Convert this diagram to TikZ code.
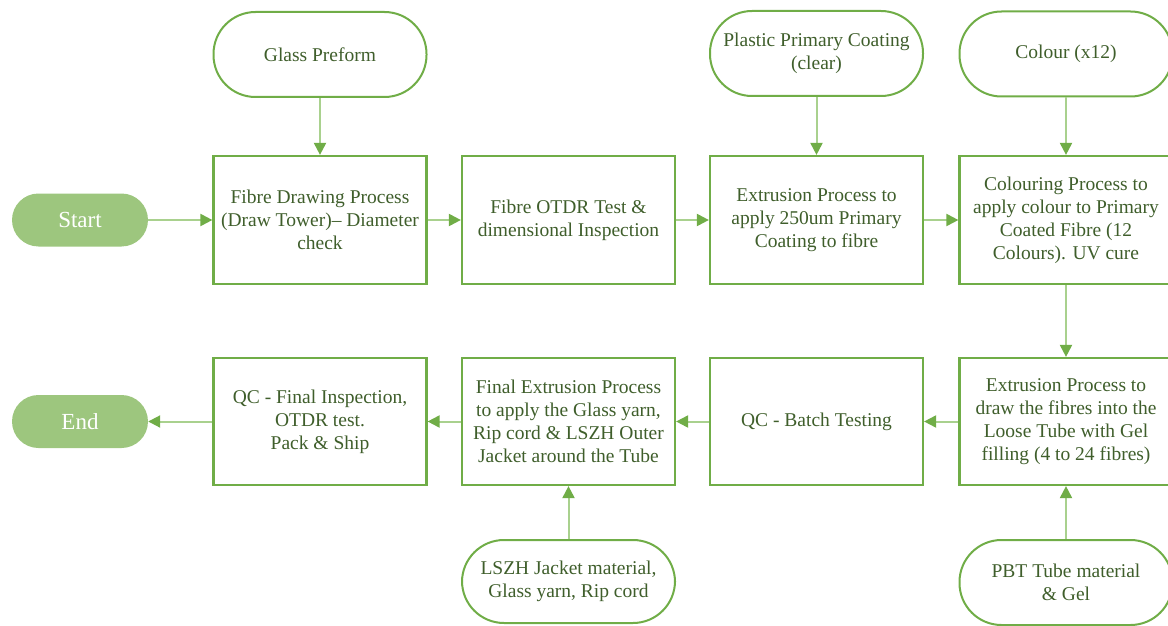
\documentclass[tikz,border=0pt]{standalone}
\usepackage{fontspec}
\setmainfont{Liberation Serif}
\usetikzlibrary{arrows.meta}
\definecolor{gborder}{HTML}{70AD47}
\definecolor{gline}{HTML}{A9D18E}
\definecolor{gfill}{HTML}{9DC67E}
\definecolor{gtext}{HTML}{3F5E2B}
\begin{document}
\begin{tikzpicture}[x=1pt,y=-1pt,
  proc/.style={draw=gborder,line width=2.2pt,minimum width=213pt,minimum height=128pt,
    align=center,text=gtext,font=\fontsize{19.5}{23}\selectfont,inner sep=0pt},
  inp/.style={draw=gborder,line width=2pt,rounded corners=42pt,minimum width=213pt,
    minimum height=85pt,align=center,text=gtext,font=\fontsize{19.5}{23}\selectfont,inner sep=0pt},
  term/.style={fill=gfill,draw=none,rounded corners=26.5pt,minimum width=136pt,
    minimum height=53pt,text=white,font=\fontsize{23}{27}\selectfont,inner sep=0pt},
  conn/.style={draw=gline,line width=2pt,-{Triangle[length=12pt,width=12pt,color=gborder]}}
]
\useasboundingbox (0,0) rectangle (1168,626);
\clip (0,0) rectangle (1168,626);

% top row
\node[term] (start) at (80,220) {Start};
\node[proc] (A) at (320,220) {Fibre Drawing Process\\(Draw Tower)-- Diameter\\check};
\node[proc] (B) at (568.5,220) {Fibre OTDR Test \&\\dimensional Inspection};
\node[proc] (C) at (816.5,220) {Extrusion Process to\\apply 250um Primary\\Coating to fibre};
\node[proc] (D) at (1066,220) {Colouring Process to\\apply colour to Primary\\Coated Fibre (12\\Colours). UV cure};

% inputs top
\node[inp] (glass) at (320,54.5) {Glass Preform};
\node[inp] (plastic) at (816.5,53.5) {Plastic Primary Coating\\(clear)};
\node[inp] (colour) at (1066,54) {Colour (x12)};

% bottom row
\node[proc,minimum height=127pt] (E) at (1066,421.5) {Extrusion Process to\\draw the fibres into the\\Loose Tube with Gel\\filling (4 to 24 fibres)};
\node[proc,minimum height=127pt] (F) at (816.5,421.5) {QC - Batch Testing};
\node[proc,minimum height=127pt] (G) at (568.5,421.5) {Final Extrusion Process\\to apply the Glass yarn,\\Rip cord \& LSZH Outer\\Jacket around the Tube};
\node[proc,minimum height=127pt] (H) at (320,421.5) {QC - Final Inspection,\\OTDR test.\\Pack \& Ship};
\node[term] (end) at (80,421.5) {End};

% inputs bottom
\node[inp,minimum height=83pt] (lszh) at (568.5,581.5) {LSZH Jacket material,\\Glass yarn, Rip cord};
\node[inp] (pbt) at (1066,582.5) {PBT Tube material\\\& Gel};

% connectors
\draw[conn] (start) -- (A);
\draw[conn] (A) -- (B);
\draw[conn] (B) -- (C);
\draw[conn] (C) -- (D);
\draw[conn] (glass) -- (A);
\draw[conn] (plastic) -- (C);
\draw[conn] (colour) -- (D);
\draw[conn] (D) -- (E);
\draw[conn] (E) -- (F);
\draw[conn] (F) -- (G);
\draw[conn] (G) -- (H);
\draw[conn] (H) -- (end);
\draw[conn] (lszh) -- (G);
\draw[conn] (pbt) -- (E);
\end{tikzpicture}
\end{document}
